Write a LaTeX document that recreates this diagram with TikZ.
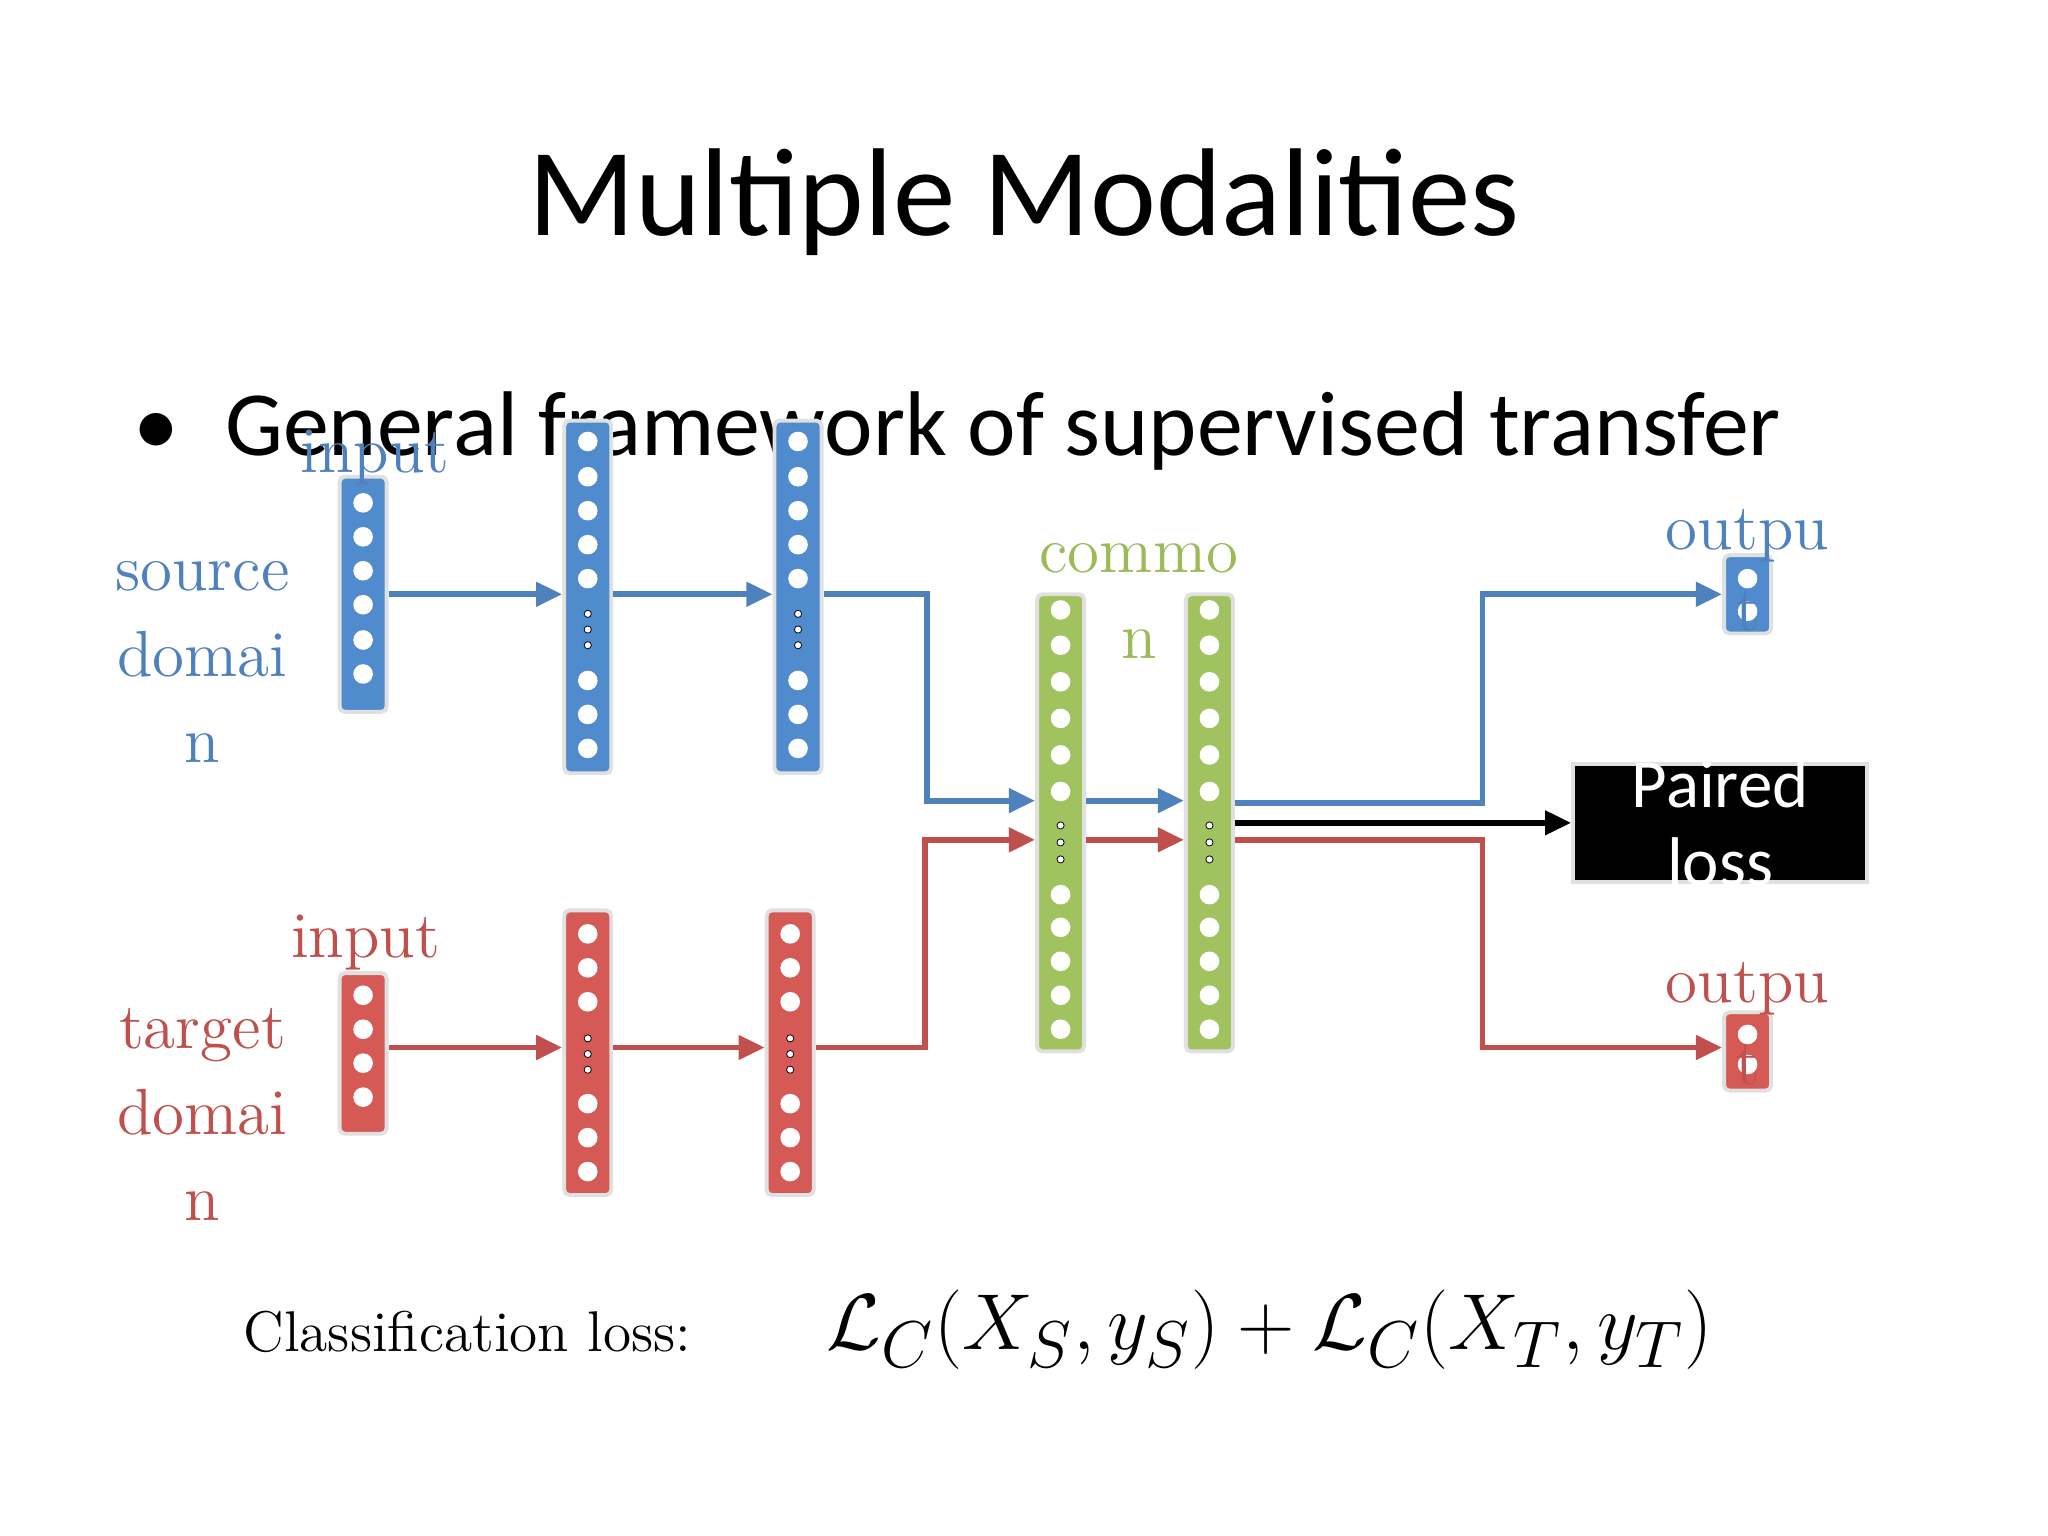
\documentclass[tikz,border=0pt]{standalone}
\usepackage{fontspec}
\usepackage{amsmath}
\newfontfamily\carl{Carlito}
\usetikzlibrary{arrows.meta}
\definecolor{bl}{RGB}{79,129,189}
\definecolor{blf}{RGB}{80,140,205}
\definecolor{rd}{RGB}{192,80,77}
\definecolor{rdf}{RGB}{213,90,86}
\definecolor{gr}{RGB}{155,187,89}
\definecolor{grf}{RGB}{160,195,95}
\tikzset{
 col/.style={draw=black!12,line width=0.03cm,rounded corners=0.04cm,minimum width=0.36cm,inner sep=0},
 dot/.style={circle,fill=white,minimum size=0.15cm,inner sep=0},
 sd/.style={circle,draw=black,fill=white,line width=0.006cm,minimum size=0.055cm,inner sep=0},
 lab/.style={font=\fontsize{14.2}{14.2}\selectfont},
 arr/.style={line width=0.045cm,-{Triangle[length=0.2cm,width=0.18cm]}},
 ln/.style={line width=0.045cm}
}
\begin{document}
\begin{tikzpicture}[x=0.01cm,y=-0.01cm]
\fill[white] (0,0) rectangle (1568,1176);
\node[font=\carl\fontsize{27.2}{27.2}\selectfont] (title) at (784,155) {Multiple Modalities};
\node[font=\carl\fontsize{20}{20}\selectfont,anchor=west] (bul) at (90,330) {\textbullet\hspace{0.35cm}General framework of supervised transfer};
\foreach \n/\x/\t/\b/\f in {bi/278/365/545/blf, b2/450/322/592/blf, b3/611/322/592/blf, ri/278/745/868/rdf, r2/450/697/915/rdf, r3/605/697/915/rdf, g1/812/455/805/grf, g2/926/455/805/grf, bo/1338/425/485/blf, ro/1338/775/835/rdf}
  \node[col,fill=\f,minimum height={(\b-\t)*0.01cm}] (\n) at (\x,{(\t+\b)/2}) {};
\foreach \y in {385,411,437,463,490,516} \node[dot] at (278,\y) {};
\foreach \y in {762,788,814,840} \node[dot] at (278,\y) {};
\foreach \x in {450,611} {
 \foreach \y in {338,365,391,417,443,521,547,573} \node[dot] at (\x,\y) {};
 \foreach \y in {470,482,494} \node[sd] at (\x,\y) {};}
\foreach \x in {450,605} {
 \foreach \y in {715,741,767,845,871,897} \node[dot] at (\x,\y) {};
 \foreach \y in {795,807,819} \node[sd] at (\x,\y) {};}
\foreach \x in {812,926} {
 \foreach \y in {467,494,522,550,578,606,685,710,736,762,788} \node[dot] at (\x,\y) {};
 \foreach \y in {632,645,658} \node[sd] at (\x,\y) {};}
\foreach \y in {443,468} \node[dot] at (1338,\y) {};
\foreach \y in {792,815} \node[dot] at (1338,\y) {};
\node[lab,text=bl] (l1) at (287,350) {input};
\node[lab,text=bl,align=center] (l2) at (155,507) {source\\[0.16cm]domai\\[0.16cm]n};
\node[lab,text=rd] (l3) at (280,722) {input};
\node[lab,text=rd,align=center] (l4) at (155,853) {target\\[0.16cm]domai\\[0.16cm]n};
\node[lab,text=gr,align=center] (l5) at (872,460) {commo\\[0.16cm]n};
\node[lab,text=bl] (l6) at (1338,410) {outpu};
\node[lab,text=bl] (l7) at (1338,468) {t};
\node[lab,text=rd] (l8) at (1338,757) {outpu};
\node[lab,text=rd] (l9) at (1338,815) {t};
\node[fill=black,draw=black!12,line width=0.03cm,minimum width=2.25cm,minimum height=0.9cm,inner sep=0] (pl) at (1317,630) {};
\node[text=white,font=\carl\fontsize{15}{17}\selectfont,align=center] (plt) at (pl.center) {Paired\\loss};
\draw[arr,bl] (bi.east|-0,455) -- (b2.west|-0,455);
\draw[arr,bl] (b2.east|-0,455) -- (b3.west|-0,455);
\draw[arr,bl] (b3.east|-0,455) -- (710,455) -- (710,613) -- (g1.west|-0,613);
\draw[arr,bl] (g1.east|-0,613) -- (g2.west|-0,613);
\draw[arr,rd] (ri.east|-0,802) -- (r2.west|-0,802);
\draw[arr,rd] (r2.east|-0,802) -- (r3.west|-0,802);
\draw[arr,rd] (r3.east|-0,802) -- (708,802) -- (708,643) -- (g1.west|-0,643);
\draw[arr,rd] (g1.east|-0,643) -- (g2.west|-0,643);
\draw[arr,bl] (g2.east|-0,615) -- (1135,615) -- (1135,455) -- (bo.west|-0,455);
\draw[arr,black] (g2.east|-0,630) -- (pl.west);
\draw[arr,rd] (g2.east|-0,643) -- (1135,643) -- (1135,802) -- (ro.west|-0,802);
\node[font=\fontsize{12.5}{12.5}\selectfont] (cl) at (358,1020) {Classification loss:};
\node[font=\fontsize{19}{19}\selectfont] (fm) at (972,1018) {$\mathcal{L}_C(X_S,y_S)+\mathcal{L}_C(X_T,y_T)$};
\end{tikzpicture}
\end{document}
